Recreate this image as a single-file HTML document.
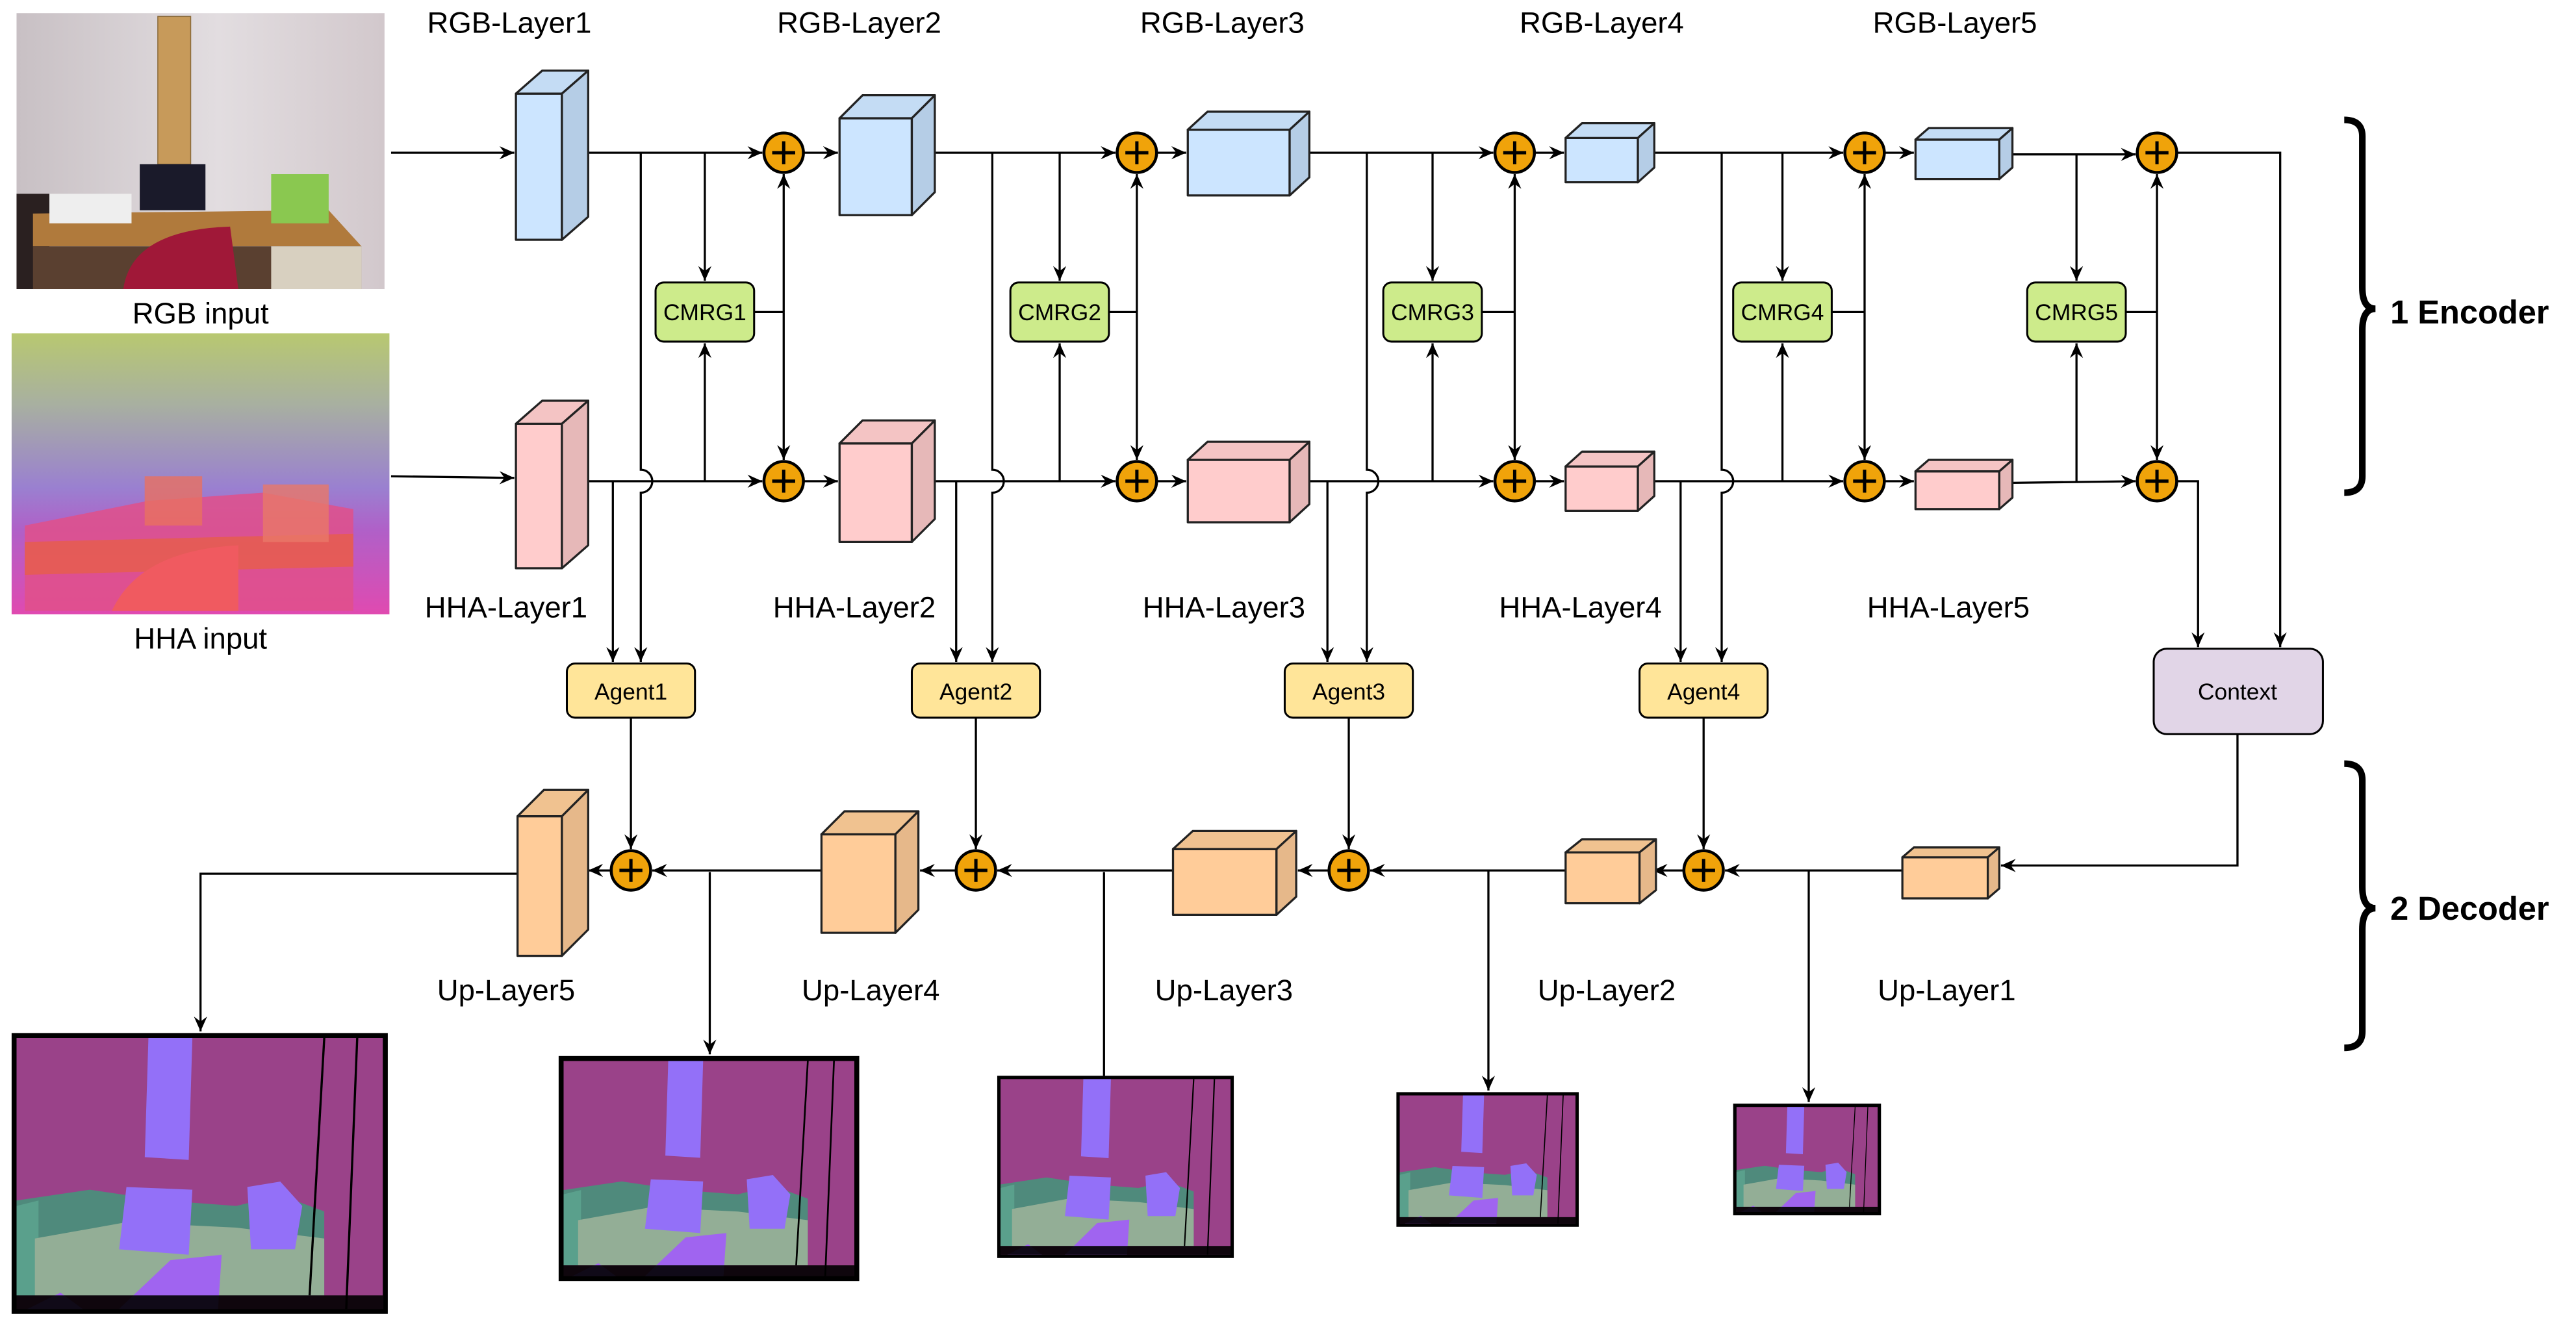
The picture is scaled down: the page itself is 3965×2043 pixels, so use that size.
<!DOCTYPE html>
<html><head><meta charset="utf-8"><style>
html,body{margin:0;padding:0;background:#fff;}
svg{display:block;}
text{font-family:"Liberation Sans",Arial,sans-serif;}
</style></head><body>
<svg width="3965" height="2043" viewBox="0 0 1568 808" xmlns="http://www.w3.org/2000/svg">
<defs>
<marker id="a" markerWidth="10" markerHeight="10" refX="9" refY="5" orient="auto" markerUnits="userSpaceOnUse">
<path d="M0,1 L9,5 L0,9 L3,5 Z" fill="#000"/></marker>
<linearGradient id="hha" x1="0" y1="0" x2="0" y2="1">
<stop offset="0" stop-color="#b8c870"/><stop offset="0.25" stop-color="#a8b0a0"/><stop offset="0.55" stop-color="#9a80d0"/><stop offset="0.7" stop-color="#b060c8"/><stop offset="1" stop-color="#e04ab0"/></linearGradient>
<linearGradient id="wall" x1="0" y1="0" x2="1" y2="0">
<stop offset="0" stop-color="#c8c0c4"/><stop offset="0.55" stop-color="#e2dde0"/><stop offset="1" stop-color="#d2c8cc"/></linearGradient>
<g id="seg">
<rect x="0" y="0" width="100" height="100" fill="#9a4289"/>
<polygon points="36,0 48,0 47,45 35,44" fill="#9370f8"/>
<polygon points="0,60 20,56 40,60 60,62 72,58 84,64 84,95 0,95" fill="#4f8a7c"/>
<polygon points="0,62 6,60 6,95 0,95" fill="#5aa08c"/>
<polygon points="5,74 30,68 60,70 84,74 84,95 5,95" fill="#93ae96"/>
<polygon points="30,55 48,56 47,80 28,78" fill="#9370f8"/>
<polygon points="63,55 72,53 78,62 76,78 64,78" fill="#9370f8"/>
<polygon points="28,100 42,82 56,80 55,100" fill="#a064f0"/>
<polygon points="3,100 12,94 18,100" fill="#a064f0"/>
<rect x="0" y="95" width="100" height="5" fill="#000" opacity="0.9"/>
<line x1="84" y1="0" x2="80" y2="95" stroke="#000" stroke-width="0.6"/>
<line x1="93" y1="0" x2="90" y2="100" stroke="#000" stroke-width="0.6"/>
</g>
</defs>
<rect width="1568" height="808" fill="#fff"/>

<!-- input images -->
<rect x="10" y="8" width="224" height="168" fill="url(#wall)"/>
<rect x="96" y="10" width="20" height="90" fill="#c79a5a" stroke="#8a6a3a" stroke-width="0.6"/>
<rect x="10" y="118" width="20" height="58" fill="#2a2020"/>
<polygon points="20,130 200,128 220,150 20,150" fill="#b07a3c"/>
<rect x="20" y="150" width="200" height="26" fill="#5a4030"/>
<rect x="165" y="150" width="55" height="26" fill="#d8d0c0"/>
<rect x="85" y="100" width="40" height="28" fill="#1a1a2a"/>
<rect x="30" y="118" width="50" height="18" fill="#eeeeee"/>
<rect x="165" y="106" width="35" height="30" fill="#8ac850"/>
<path d="M75,176 Q80,140 140,138 L145,176 Z" fill="#a01838"/>
<rect x="7" y="203" width="230" height="171" fill="url(#hha)"/>
<polygon points="15,320 90,305 160,300 215,310 215,372 15,372" fill="#e0508a" opacity="0.85"/>
<polygon points="15,330 215,325 215,345 15,350" fill="#e86040" opacity="0.7"/>
<path d="M68,372 Q85,335 145,332 L145,372 Z" fill="#f05a60"/>
<rect x="88" y="290" width="35" height="30" fill="#e87060" opacity="0.8"/>
<rect x="160" y="295" width="40" height="35" fill="#e87868" opacity="0.8"/>
<text x="122" y="197" font-size="18" text-anchor="middle">RGB input</text>
<text x="122" y="395" font-size="18" text-anchor="middle">HHA input</text>

<g stroke="#000" stroke-width="1.3" fill="none">
<line x1="238" y1="93" x2="313" y2="93" marker-end="url(#a)"/>
<line x1="238" y1="290" x2="313" y2="291" marker-end="url(#a)"/>

<line x1="358" y1="93" x2="464" y2="93" marker-end="url(#a)"/>
<line x1="358" y1="293" x2="464" y2="293" marker-end="url(#a)"/>
<line x1="429" y1="93" x2="429" y2="171" marker-end="url(#a)"/>
<line x1="429" y1="293" x2="429" y2="209" marker-end="url(#a)"/>
<line x1="459" y1="190" x2="477" y2="190"/>
<line x1="477" y1="190" x2="477" y2="106" marker-end="url(#a)"/>
<line x1="477" y1="190" x2="477" y2="280" marker-end="url(#a)"/>
<line x1="489" y1="93" x2="510" y2="93" marker-end="url(#a)"/>
<line x1="489" y1="293" x2="510" y2="293" marker-end="url(#a)"/>
<path d="M390 93 V286 A7 7 0 0 1 390 300 V403" marker-end="url(#a)"/>
<line x1="373" y1="293" x2="373" y2="403" marker-end="url(#a)"/>

<line x1="569" y1="93" x2="679" y2="93" marker-end="url(#a)"/>
<line x1="569" y1="293" x2="679" y2="293" marker-end="url(#a)"/>
<line x1="645" y1="93" x2="645" y2="171" marker-end="url(#a)"/>
<line x1="645" y1="293" x2="645" y2="209" marker-end="url(#a)"/>
<line x1="675" y1="190" x2="692" y2="190"/>
<line x1="692" y1="190" x2="692" y2="106" marker-end="url(#a)"/>
<line x1="692" y1="190" x2="692" y2="280" marker-end="url(#a)"/>
<line x1="704" y1="93" x2="722" y2="93" marker-end="url(#a)"/>
<line x1="704" y1="293" x2="722" y2="293" marker-end="url(#a)"/>
<path d="M604 93 V286 A7 7 0 0 1 604 300 V403" marker-end="url(#a)"/>
<line x1="582" y1="293" x2="582" y2="403" marker-end="url(#a)"/>

<line x1="797" y1="93" x2="909" y2="93" marker-end="url(#a)"/>
<line x1="797" y1="293" x2="909" y2="293" marker-end="url(#a)"/>
<line x1="872" y1="93" x2="872" y2="171" marker-end="url(#a)"/>
<line x1="872" y1="293" x2="872" y2="209" marker-end="url(#a)"/>
<line x1="902" y1="190" x2="922" y2="190"/>
<line x1="922" y1="190" x2="922" y2="106" marker-end="url(#a)"/>
<line x1="922" y1="190" x2="922" y2="280" marker-end="url(#a)"/>
<line x1="934" y1="93" x2="952" y2="93" marker-end="url(#a)"/>
<line x1="934" y1="293" x2="952" y2="293" marker-end="url(#a)"/>
<path d="M832 93 V286 A7 7 0 0 1 832 300 V403" marker-end="url(#a)"/>
<line x1="808" y1="293" x2="808" y2="403" marker-end="url(#a)"/>

<line x1="1007" y1="93" x2="1122" y2="93" marker-end="url(#a)"/>
<line x1="1007" y1="293" x2="1122" y2="293" marker-end="url(#a)"/>
<line x1="1085" y1="93" x2="1085" y2="171" marker-end="url(#a)"/>
<line x1="1085" y1="293" x2="1085" y2="209" marker-end="url(#a)"/>
<line x1="1115" y1="190" x2="1135" y2="190"/>
<line x1="1135" y1="190" x2="1135" y2="106" marker-end="url(#a)"/>
<line x1="1135" y1="190" x2="1135" y2="280" marker-end="url(#a)"/>
<line x1="1147" y1="93" x2="1165" y2="93" marker-end="url(#a)"/>
<line x1="1147" y1="293" x2="1165" y2="293" marker-end="url(#a)"/>
<path d="M1048 93 V286 A7 7 0 0 1 1048 300 V403" marker-end="url(#a)"/>
<line x1="1023" y1="293" x2="1023" y2="403" marker-end="url(#a)"/>

<line x1="1225" y1="94" x2="1300" y2="94" marker-end="url(#a)"/>
<line x1="1225" y1="294" x2="1300" y2="293" marker-end="url(#a)"/>
<line x1="1264" y1="94" x2="1264" y2="171" marker-end="url(#a)"/>
<line x1="1264" y1="294" x2="1264" y2="209" marker-end="url(#a)"/>
<line x1="1294" y1="190" x2="1313" y2="190"/>
<line x1="1313" y1="190" x2="1313" y2="106" marker-end="url(#a)"/>
<line x1="1313" y1="190" x2="1313" y2="280" marker-end="url(#a)"/>
<polyline points="1325,93 1388,93 1388,394" marker-end="url(#a)"/>
<polyline points="1325,293 1338,293 1338,394" marker-end="url(#a)"/>

<polyline points="1362,447 1362,527 1218,527" marker-end="url(#a)"/>
<line x1="1158" y1="530" x2="1050" y2="530" marker-end="url(#a)"/>
<line x1="1037" y1="437" x2="1037" y2="517" marker-end="url(#a)"/>
<line x1="1025" y1="530" x2="1006" y2="530" marker-end="url(#a)"/>
<line x1="953" y1="530" x2="834" y2="530" marker-end="url(#a)"/>
<line x1="821" y1="437" x2="821" y2="517" marker-end="url(#a)"/>
<line x1="809" y1="530" x2="790" y2="530" marker-end="url(#a)"/>
<line x1="714" y1="530" x2="607" y2="530" marker-end="url(#a)"/>
<line x1="594" y1="437" x2="594" y2="517" marker-end="url(#a)"/>
<line x1="582" y1="530" x2="560" y2="530" marker-end="url(#a)"/>
<line x1="500" y1="530" x2="397" y2="530" marker-end="url(#a)"/>
<line x1="384" y1="437" x2="384" y2="517" marker-end="url(#a)"/>
<line x1="372" y1="530" x2="358" y2="530" marker-end="url(#a)"/>
<polyline points="315,532 122,532 122,628" marker-end="url(#a)"/>
<line x1="432" y1="531" x2="432" y2="642" marker-end="url(#a)"/>
<line x1="672" y1="531" x2="672" y2="655"/>
<line x1="906" y1="530" x2="906" y2="664" marker-end="url(#a)"/>
<line x1="1101" y1="530" x2="1101" y2="671" marker-end="url(#a)"/>
</g>

<g stroke="#222" stroke-width="1.3" stroke-linejoin="round">
<g fill="#cce5ff"><rect x="314" y="57" width="28" height="89"/><rect x="511" y="72" width="44" height="59"/><rect x="723" y="79" width="62" height="40"/><rect x="953" y="84" width="44" height="27"/><rect x="1166" y="85" width="51" height="24"/></g>
<g fill="#c4dcf4"><polygon points="314,57 330,43 358,43 342,57"/><polygon points="511,72 525,58 569,58 555,72"/><polygon points="723,79 735,68 797,68 785,79"/><polygon points="953,84 963,75 1007,75 997,84"/><polygon points="1166,85 1174,78 1225,78 1217,85"/></g>
<g fill="#b5cde6"><polygon points="342,57 358,43 358,132 342,146"/><polygon points="555,72 569,58 569,117 555,131"/><polygon points="785,79 797,68 797,108 785,119"/><polygon points="997,84 1007,75 1007,102 997,111"/><polygon points="1217,85 1225,78 1225,102 1217,109"/></g>
<g fill="#ffcccc"><rect x="314" y="258" width="28" height="88"/><rect x="511" y="270" width="44" height="60"/><rect x="723" y="280" width="62" height="38"/><rect x="953" y="284" width="44" height="27"/><rect x="1166" y="287" width="51" height="23"/></g>
<g fill="#f4c4c4"><polygon points="314,258 330,244 358,244 342,258"/><polygon points="511,270 525,256 569,256 555,270"/><polygon points="723,280 735,269 797,269 785,280"/><polygon points="953,284 963,275 1007,275 997,284"/><polygon points="1166,287 1174,280 1225,280 1217,287"/></g>
<g fill="#e6b8b8"><polygon points="342,258 358,244 358,332 342,346"/><polygon points="555,270 569,256 569,316 555,330"/><polygon points="785,280 797,269 797,307 785,318"/><polygon points="997,284 1007,275 1007,302 997,311"/><polygon points="1217,287 1225,280 1225,303 1217,310"/></g>
<g fill="#ffcc99"><rect x="315" y="497" width="27" height="85"/><rect x="500" y="508" width="45" height="60"/><rect x="714" y="517" width="63" height="40"/><rect x="953" y="519" width="45" height="31"/><rect x="1158" y="522" width="52" height="25"/></g>
<g fill="#f0c290"><polygon points="315,497 331,481 358,481 342,497"/><polygon points="500,508 514,494 559,494 545,508"/><polygon points="714,517 726,506 789,506 777,517"/><polygon points="953,519 963,511 1008,511 998,519"/><polygon points="1158,522 1165,516 1217,516 1210,522"/></g>
<g fill="#e6b88a"><polygon points="342,497 358,481 358,566 342,582"/><polygon points="545,508 559,494 559,554 545,568"/><polygon points="777,517 789,506 789,546 777,557"/><polygon points="998,519 1008,511 1008,542 998,550"/><polygon points="1210,522 1217,516 1217,541 1210,547"/></g>
</g>

<g stroke="#000" stroke-width="1.8">
<g fill="#f0a30a">
<circle cx="477" cy="93" r="12"/><circle cx="692" cy="93" r="12"/><circle cx="922" cy="93" r="12"/><circle cx="1135" cy="93" r="12"/><circle cx="1313" cy="93" r="12"/>
<circle cx="477" cy="293" r="12"/><circle cx="692" cy="293" r="12"/><circle cx="922" cy="293" r="12"/><circle cx="1135" cy="293" r="12"/><circle cx="1313" cy="293" r="12"/>
<circle cx="384" cy="530" r="12"/><circle cx="594" cy="530" r="12"/><circle cx="821" cy="530" r="12"/><circle cx="1037" cy="530" r="12"/>
</g>
<path fill="none" stroke-width="2" d="M470 93h14M477 86v14 M685 93h14M692 86v14 M915 93h14M922 86v14 M1128 93h14M1135 86v14 M1306 93h14M1313 86v14
M470 293h14M477 286v14 M685 293h14M692 286v14 M915 293h14M922 286v14 M1128 293h14M1135 286v14 M1306 293h14M1313 286v14
M377 530h14M384 523v14 M587 530h14M594 523v14 M814 530h14M821 523v14 M1030 530h14M1037 523v14"/>
</g>

<g stroke="#000" stroke-width="1.2" fill="#cdeb8b">
<rect x="399" y="172" width="60" height="36" rx="5"/><rect x="615" y="172" width="60" height="36" rx="5"/><rect x="842" y="172" width="60" height="36" rx="5"/><rect x="1055" y="172" width="60" height="36" rx="5"/><rect x="1234" y="172" width="60" height="36" rx="5"/>
</g>
<g font-size="14" text-anchor="middle">
<text x="429" y="195">CMRG1</text><text x="645" y="195">CMRG2</text><text x="872" y="195">CMRG3</text><text x="1085" y="195">CMRG4</text><text x="1264" y="195">CMRG5</text>
</g>
<g stroke="#000" stroke-width="1.2" fill="#ffe599">
<rect x="345" y="404" width="78" height="33" rx="5"/><rect x="555" y="404" width="78" height="33" rx="5"/><rect x="782" y="404" width="78" height="33" rx="5"/><rect x="998" y="404" width="78" height="33" rx="5"/>
</g>
<g font-size="14" text-anchor="middle">
<text x="384" y="426">Agent1</text><text x="594" y="426">Agent2</text><text x="821" y="426">Agent3</text><text x="1037" y="426">Agent4</text>
</g>
<rect x="1311" y="395" width="103" height="52" rx="8" fill="#e1d5e7" stroke="#000" stroke-width="1.2"/>
<text x="1362" y="426" font-size="14" text-anchor="middle">Context</text>

<g font-size="18" text-anchor="middle">
<text x="310" y="20">RGB-Layer1</text><text x="523" y="20">RGB-Layer2</text><text x="744" y="20">RGB-Layer3</text><text x="975" y="20">RGB-Layer4</text><text x="1190" y="20">RGB-Layer5</text>
<text x="308" y="376">HHA-Layer1</text><text x="520" y="376">HHA-Layer2</text><text x="745" y="376">HHA-Layer3</text><text x="962" y="376">HHA-Layer4</text><text x="1186" y="376">HHA-Layer5</text>
<text x="308" y="609">Up-Layer5</text><text x="530" y="609">Up-Layer4</text><text x="745" y="609">Up-Layer3</text><text x="978" y="609">Up-Layer2</text><text x="1185" y="609">Up-Layer1</text>
</g>

<g fill="none" stroke="#000" stroke-width="4">
<path d="M1427 73 Q1438 73 1438 83 V175 Q1438 188 1446 188 Q1438 188 1438 201 V290 Q1438 300 1427 300"/>
<path d="M1427 465 Q1438 465 1438 475 V540 Q1438 553 1446 553 Q1438 553 1438 566 V628 Q1438 638 1427 638"/>
</g>
<text x="1455" y="197" font-size="20" font-weight="bold">1 Encoder</text>
<text x="1455" y="560" font-size="20" font-weight="bold">2 Decoder</text>

<g>
<rect x="7" y="629" width="229" height="171" fill="#000"/>
<svg x="10" y="632" width="223" height="165" viewBox="0 0 100 100" preserveAspectRatio="none"><use href="#seg"/></svg>
<rect x="340" y="643" width="183" height="137" fill="#000"/>
<svg x="343" y="646" width="177" height="131" viewBox="0 0 100 100" preserveAspectRatio="none"><use href="#seg"/></svg>
<rect x="607" y="655" width="144" height="111" fill="#000"/>
<svg x="609" y="657" width="140" height="107" viewBox="0 0 100 100" preserveAspectRatio="none"><use href="#seg"/></svg>
<rect x="850" y="665" width="111" height="82" fill="#000"/>
<svg x="852" y="667" width="107" height="78" viewBox="0 0 100 100" preserveAspectRatio="none"><use href="#seg"/></svg>
<rect x="1055" y="672" width="90" height="68" fill="#000"/>
<svg x="1057" y="674" width="86" height="64" viewBox="0 0 100 100" preserveAspectRatio="none"><use href="#seg"/></svg>
</g>
</svg>
</body></html>
